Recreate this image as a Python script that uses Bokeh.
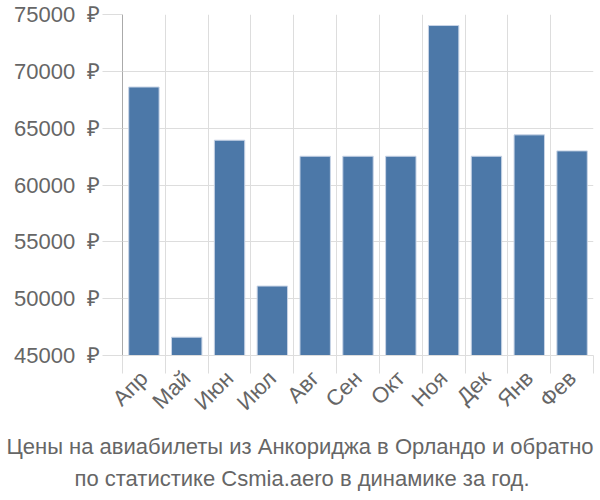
from bokeh.plotting import figure
from bokeh.models import Range1d, FixedTicker, PrintfTickFormatter, Title, ColumnDataSource
from bokeh.embed import file_html
from bokeh.resources import INLINE
import math

months = ["Апр", "Май", "Июн", "Июл", "Авг", "Сен", "Окт", "Ноя", "Дек", "Янв", "Фев"]
prices = [68620, 46610, 63940, 51110, 62530, 62530, 62530, 74030, 62530, 64410, 63000]
y_ticks = [45000, 50000, 55000, 60000, 65000, 70000, 75000]
title_lines = ["Цены на авиабилеты из Анкориджа в Орландо и обратно",
               "по статистике Csmia.aero в динамике за год."]

FONT = "Liberation Sans"
GREY = "#666666"
LEFT = 122

xs = [i + 0.5 for i in range(len(months))]
bounds = list(range(len(months) + 1))
src = ColumnDataSource(dict(x=xs, top=prices, m=months))

p = figure(width=600, height=500, output_backend="svg", toolbar_location=None,
           x_range=Range1d(0, len(months)), y_range=Range1d(y_ticks[0], y_ticks[-1]),
           min_border_left=LEFT, min_border_right=7, min_border_top=14, min_border_bottom=145)
p.outline_line_color = None
p.background_fill_color = "white"

p.vbar(x="x", top="top", bottom=0, width=0.71, source=src,
       fill_color="#4C78A8", line_color="#c8d4e6", line_width=1)

# y axis
p.yaxis.ticker = FixedTicker(ticks=y_ticks)
p.yaxis.formatter = PrintfTickFormatter(format="%d\u00a0\u00a0₽")
p.yaxis.axis_line_color = "#aaaaaa"
p.yaxis.major_tick_line_color = "#dddddd"
p.yaxis.major_tick_out = 20
p.yaxis.major_tick_in = 0
p.yaxis.minor_tick_line_color = None
p.yaxis.major_label_standoff = 2
p.yaxis.major_label_text_font = FONT
p.yaxis.major_label_text_font_size = "22px"
p.yaxis.major_label_text_color = GREY

# x axis
p.xaxis.ticker = FixedTicker(ticks=xs, minor_ticks=bounds)
p.xaxis.major_label_overrides = {x: m for x, m in zip(xs, months)}
p.xaxis.axis_line_color = "#dddddd"
p.xaxis.major_tick_line_color = None
p.xaxis.minor_tick_line_color = "#dddddd"
p.xaxis.minor_tick_out = 18
p.xaxis.minor_tick_in = 0
p.xaxis.major_label_orientation = math.pi / 4
p.xaxis.major_label_text_font = FONT
p.xaxis.major_label_text_font_size = "22px"
p.xaxis.major_label_text_color = GREY
p.xaxis.major_label_standoff = 1

# grids
p.ygrid.ticker = FixedTicker(ticks=y_ticks)
p.ygrid.grid_line_color = "#dddddd"
p.xgrid.ticker = FixedTicker(ticks=bounds)
p.xgrid.grid_line_color = "#dddddd"

offsets = [-116, -48]
standoffs = [10, 0]
for line, off, so in zip(title_lines, offsets, standoffs):
    p.add_layout(Title(text=line, align="left", offset=off, text_font=FONT,
                       text_font_size="22px", text_color=GREY, text_font_style="normal",
                       standoff=so), "below")

open("out.html", "w").write(file_html(p, INLINE))
